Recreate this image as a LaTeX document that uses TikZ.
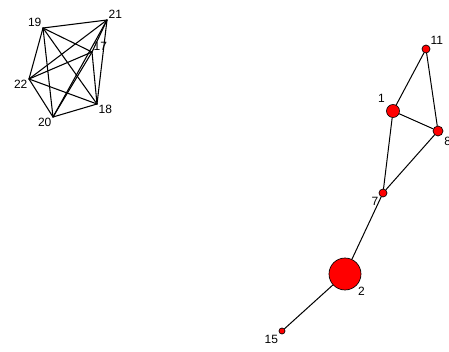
\documentclass[tikz,border=0pt]{standalone}
\usepackage{fontspec}
\setmainfont{Liberation Sans}
\begin{document}
\begin{tikzpicture}[
		x=0.75pt, y=-0.75pt,
		font=\fontsize{9}{10}\selectfont,
		line join=round,
		line cap=round,
		vtx/.style={circle, draw=black, fill=red, inner sep=0pt, line width=0.5pt},
		lbl/.style={inner sep=1pt}
		]
		
		\useasboundingbox (0,0) rectangle (449,352);
		
		% first component, no markers
		\coordinate[label={[lbl]above left:19}] (n19) at (43,28);
		\coordinate[label={[lbl]above right:21}] (n21) at (107,20);
		\coordinate[label={[lbl]above right:17}] (n17) at (92,52);
		\coordinate[label={[lbl]below left:22}] (n22) at (29,79);
		\coordinate[label={[lbl]below left:20}] (n20) at (53,117);
		\coordinate[label={[lbl]below right:18}] (n18) at (97,104);
		
		\foreach \a/\b in {19/21,19/17,19/22,19/20,19/18,21/17,21/22,21/20,
			21/18,17/22,17/20,17/18,22/20,22/18,20/18} {
			\draw[line width=0.8pt] (n\a) -- (n\b);
		}
		
		% second component
		\node[vtx, minimum size=6pt, label={[lbl]above right:11}] (n11) at (426,49) {};
		\node[vtx, minimum size=9.75pt, label={[lbl, label distance=2pt]above left:1}] (n1) at (393,111) {};
		\node[vtx, minimum size=7.5pt, label={[lbl, label distance=1pt]below right:8}] (n8) at (438,131) {};
		\node[vtx, minimum size=6pt, label={[lbl]below left:7}] (n7) at (383,193) {};
		\node[vtx, minimum size=24pt, label={[lbl]below right:2}] (n2) at (345,274) {};
		\node[vtx, minimum size=4.5pt, label={[lbl]below left:15}] (n15) at (282,331) {};
		
		\foreach \a/\b in {11/1,11/8,1/8,1/7,8/7,7/2,2/15} {
			\draw[line width=0.75pt] (n\a) -- (n\b);
		}
		
\end{tikzpicture}
\end{document}
